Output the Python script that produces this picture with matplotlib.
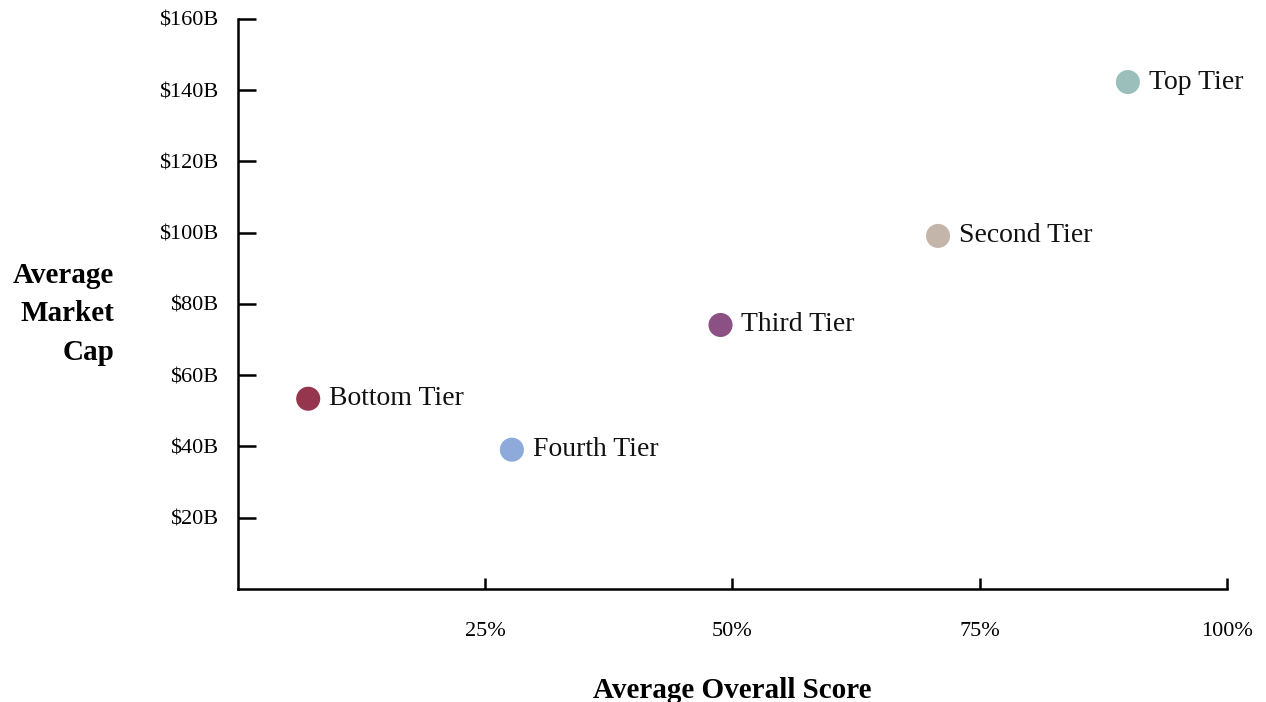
import matplotlib
matplotlib.use("Agg")
import matplotlib.pyplot as plt
from matplotlib.ticker import FuncFormatter

plt.rcParams["font.family"] = ["Liberation Serif", "DejaVu Serif"]

# tier averages
tiers = ["Top Tier", "Second Tier", "Third Tier", "Bottom Tier", "Fourth Tier"]
avg_score = [90.0, 70.8, 48.8, 7.1, 27.7]          # percent
avg_mcap = [142.3, 99.1, 74.1, 53.4, 39.1]         # $B
colors = ["#9bbfbb", "#c4b5ab", "#8b5084", "#96354e", "#8eaadb"]

x_ticks = [25, 50, 75, 100]
y_ticks = [20, 40, 60, 80, 100, 120, 140, 160]

fig = plt.figure(figsize=(12.66, 7.02), dpi=100)
ax = fig.add_axes([0.188, 0.161, 0.781, 0.812])

ax.scatter(avg_score, avg_mcap, s=300, c=colors, zorder=3, linewidths=0)
for name, x, y in zip(tiers, avg_score, avg_mcap):
    ax.annotate(name, (x, y), xytext=(15, 0), textcoords="offset points",
                va="center", ha="left", fontsize=20, color="#111111")

ax.set_xlim(0, 100)
ax.set_ylim(0, 160)
ax.set_xticks(x_ticks)
ax.set_yticks(y_ticks)
ax.xaxis.set_major_formatter(FuncFormatter(lambda v, _p: f"{v:.0f}%"))
ax.yaxis.set_major_formatter(FuncFormatter(lambda v, _p: f"${v:.0f}B"))

for side in ("top", "right"):
    ax.spines[side].set_visible(False)
for side in ("left", "bottom"):
    ax.spines[side].set_linewidth(1.8)

ax.tick_params(axis="y", direction="in", length=13, width=1.8, pad=14,
               labelsize=16)
ax.tick_params(axis="x", direction="in", length=8, width=1.8, pad=24,
               labelsize=16)

ax.set_xlabel("Average Overall Score", fontsize=21, fontweight="bold",
              labelpad=26)
ax.set_ylabel("Average\nMarket\nCap", fontsize=21, fontweight="bold",
              rotation=0, ha="right", va="center", linespacing=1.55)
ax.yaxis.set_label_coords(-0.125, 0.483)

fig.savefig("out.png")
